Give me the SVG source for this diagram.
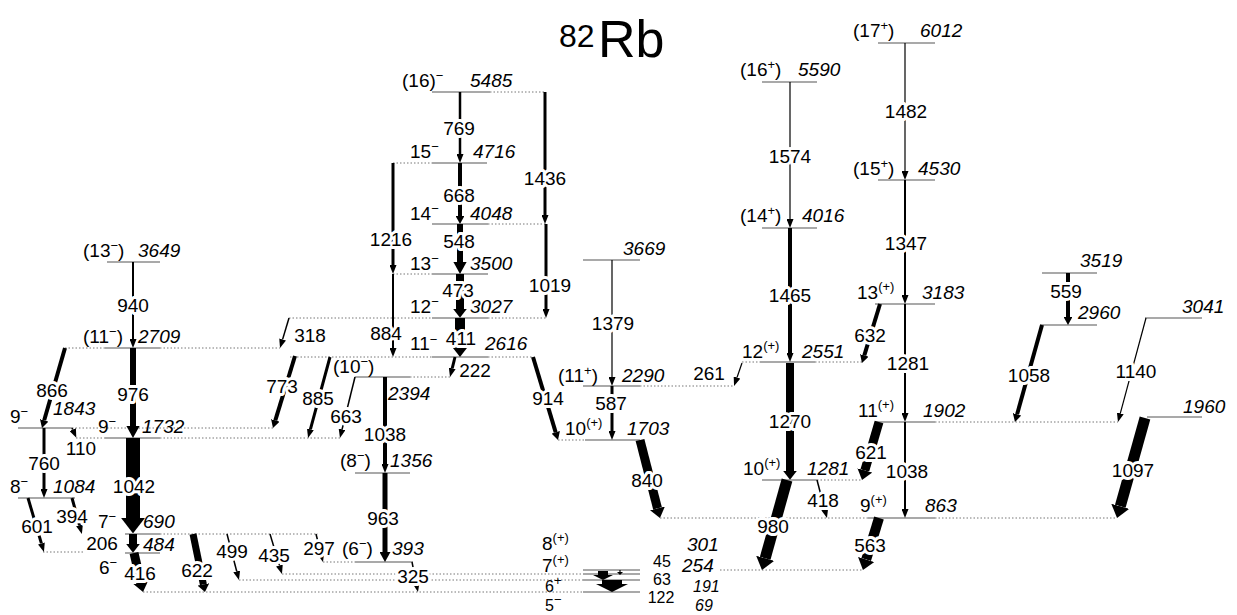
<svg xmlns="http://www.w3.org/2000/svg" width="1237" height="615" viewBox="0 0 1237 615">
<style>
.lv{stroke:#555;stroke-width:1.2;fill:none}
.dt{stroke:#777;stroke-width:1;stroke-dasharray:1.5 2;fill:none}
text{font-family:"Liberation Sans",Arial,sans-serif;font-size:19px;fill:#000}
.e{font-style:italic}
.s{font-size:13px}
.k{font-size:16px}
.g{text-anchor:middle;stroke:#fff;stroke-width:6;paint-order:stroke;stroke-linejoin:round}
.n{stroke-width:0}
.a{stroke:#000;fill:none}
.t{marker-end:url(#t)}
.m{marker-end:url(#m)}
.b{marker-end:url(#b)}
</style>
<defs>
<marker id="t" markerUnits="userSpaceOnUse" markerWidth="9" markerHeight="7" viewBox="0 0 9 7" refX="0" refY="3.5" orient="auto"><path d="M0,0L9,3.5L0,7z"/></marker>
<marker id="m" markerUnits="strokeWidth" markerWidth="2" markerHeight="2.2" viewBox="0 0 2 2.2" refX="0" refY="1.1" orient="auto"><path d="M0,0L2,1.1L0,2.2z"/></marker>
<marker id="b" markerUnits="strokeWidth" markerWidth="1.1" markerHeight="1.7" viewBox="0 0 1.1 1.7" refX="0" refY="0.85" orient="auto"><path d="M0,0L1.1,0.85L0,1.7z"/></marker>
</defs>
<rect width="1237" height="615" fill="#fff"/>
<g id="title"><text x="559" y="47" style="font-size:32px">82</text><text x="598" y="57" style="font-size:52px">Rb</text></g>

<g id="levels">
<g id="L3649"><line class="lv" x1="107" y1="262" x2="160" y2="262"/><text x="83" y="257">(13<tspan class="s" dy="-7">−</tspan><tspan dy="7">)</tspan></text><text class="e" x="138" y="257">3649</text></g>
<g id="L2709"><line class="lv" x1="105" y1="348" x2="160" y2="348"/><line class="dt" x1="65" y1="348" x2="105" y2="348"/><line class="dt" x1="160" y1="348" x2="280" y2="348"/><text x="83" y="343">(11<tspan class="s" dy="-7">−</tspan><tspan dy="7">)</tspan></text><text class="e" x="138" y="343">2709</text></g>
<g id="L1843"><line class="lv" x1="18" y1="428" x2="72" y2="428"/><line class="dt" x1="72" y1="428" x2="273" y2="428"/><text x="10" y="423">9<tspan class="s" dy="-7">−</tspan></text><text class="e" x="53" y="415">1843</text></g>
<g id="L1732"><line class="lv" x1="105" y1="438" x2="160" y2="438"/><line class="dt" x1="76" y1="438" x2="105" y2="438"/><line class="dt" x1="160" y1="438" x2="340" y2="438"/><text x="98" y="433">9<tspan class="s" dy="-7">−</tspan></text><text class="e" x="142" y="433">1732</text></g>
<g id="L1084"><line class="lv" x1="18" y1="498" x2="75" y2="498"/><text x="10" y="493">8<tspan class="s" dy="-7">−</tspan></text><text class="e" x="53" y="493">1084</text></g>
<g id="L690"><line class="lv" x1="125" y1="534" x2="160" y2="534"/><line class="dt" x1="160" y1="534" x2="318" y2="534"/><text x="98" y="528">7<tspan class="s" dy="-7">−</tspan></text><text class="e" x="143" y="528">690</text></g>
<g id="L484"><line class="lv" x1="125" y1="553" x2="160" y2="553"/><line class="dt" x1="43" y1="552" x2="85" y2="552"/><text x="99" y="574">6<tspan class="s" dy="-7">−</tspan></text><text class="e" x="143" y="551">484</text></g>
<g id="L393"><line class="lv" x1="355" y1="562" x2="413" y2="562"/><line class="dt" x1="323" y1="562" x2="355" y2="562"/><text x="342" y="555">(6<tspan class="s" dy="-7">−</tspan><tspan dy="7">)</tspan></text><text class="e" x="392" y="555">393</text></g>
<g id="L1356"><line class="lv" x1="355" y1="473" x2="410" y2="473"/><text x="340" y="467">(8<tspan class="s" dy="-7">−</tspan><tspan dy="7">)</tspan></text><text class="e" x="390" y="467">1356</text></g>
<g id="L2394"><line class="lv" x1="355" y1="377" x2="410" y2="377"/><line class="dt" x1="410" y1="377" x2="450" y2="377"/><text x="333" y="373">(10<tspan class="s" dy="-7">−</tspan><tspan dy="7">)</tspan></text><text class="e" x="388" y="400">2394</text></g>
<g id="L2616"><line class="lv" x1="432" y1="357" x2="488" y2="357"/><line class="dt" x1="290" y1="357" x2="432" y2="357"/><line class="dt" x1="488" y1="357" x2="533" y2="357"/><text x="410" y="350">11<tspan class="s" dy="-6">−</tspan></text><text class="e" x="485" y="350">2616</text></g>
<g id="L3027"><line class="lv" x1="432" y1="318" x2="488" y2="318"/><line class="dt" x1="289" y1="318" x2="432" y2="318"/><line class="dt" x1="488" y1="318" x2="546" y2="318"/><text x="410" y="313">12<tspan class="s" dy="-7">−</tspan></text><text class="e" x="470" y="313">3027</text></g>
<g id="L3500"><line class="lv" x1="432" y1="274" x2="488" y2="274"/><line class="dt" x1="393" y1="274" x2="432" y2="274"/><text x="410" y="270">13<tspan class="s" dy="-7">−</tspan></text><text class="e" x="470" y="270">3500</text></g>
<g id="L4048"><line class="lv" x1="432" y1="224" x2="488" y2="224"/><line class="dt" x1="488" y1="224" x2="546" y2="224"/><text x="410" y="220">14<tspan class="s" dy="-7">−</tspan></text><text class="e" x="470" y="220">4048</text></g>
<g id="L4716"><line class="lv" x1="432" y1="163" x2="487" y2="163"/><line class="dt" x1="393" y1="163" x2="432" y2="163"/><text x="410" y="158">15<tspan class="s" dy="-7">−</tspan></text><text class="e" x="473" y="158">4716</text></g>
<g id="L5485"><line class="lv" x1="432" y1="92" x2="490" y2="92"/><line class="dt" x1="490" y1="92" x2="545" y2="92"/><text x="402" y="87">(16)<tspan class="s" dy="-7">−</tspan></text><text class="e" x="470" y="87">5485</text></g>
<g id="L3669"><line class="lv" x1="583" y1="260" x2="640" y2="260"/><text class="e" x="623" y="255">3669</text></g>
<g id="L2290"><line class="lv" x1="583" y1="386" x2="640" y2="386"/><line class="dt" x1="640" y1="386" x2="734" y2="386"/><text x="558" y="382">(11<tspan class="s" dy="-7">+</tspan><tspan dy="7">)</tspan></text><text class="e" x="622" y="382">2290</text></g>
<g id="L1703"><line class="lv" x1="585" y1="440" x2="640" y2="440"/><line class="dt" x1="558" y1="440" x2="585" y2="440"/><text x="565" y="435">10<tspan class="s" dy="-8">(+)</tspan></text><text class="e" x="627" y="435">1703</text></g>
<g id="L301"><line class="lv" x1="583" y1="570" x2="640" y2="570"/><line class="dt" x1="720" y1="570" x2="862" y2="570"/><text x="542" y="550">8<tspan class="s" dy="-8">(+)</tspan></text><text class="e" x="687" y="551">301</text></g>
<g id="L254"><line class="lv" x1="583" y1="574" x2="640" y2="574"/><line class="dt" x1="282" y1="574" x2="583" y2="574"/><text x="542" y="572">7<tspan class="s" dy="-8">(+)</tspan></text><text class="e" x="682" y="572">254</text></g>
<g id="L191"><line class="lv" x1="583" y1="580" x2="640" y2="580"/><line class="dt" x1="239" y1="580" x2="583" y2="580"/><text class="k" x="545" y="592">6<tspan class="s" dy="-7">+</tspan></text><text class="e k" x="693" y="592">191</text></g>
<g id="L69"><line class="lv" x1="583" y1="592" x2="640" y2="592"/><line class="dt" x1="143" y1="592" x2="583" y2="592"/><text class="k" x="545" y="611">5<tspan class="s" dy="-7">−</tspan></text><text class="e k" x="695" y="611">69</text></g>
<g id="L5590"><line class="lv" x1="762" y1="82" x2="817" y2="82"/><text x="740" y="76">(16<tspan class="s" dy="-7">+</tspan><tspan dy="7">)</tspan></text><text class="e" x="798" y="76">5590</text></g>
<g id="L4016"><line class="lv" x1="762" y1="228" x2="817" y2="228"/><text x="740" y="222">(14<tspan class="s" dy="-7">+</tspan><tspan dy="7">)</tspan></text><text class="e" x="802" y="222">4016</text></g>
<g id="L2551"><line class="lv" x1="760" y1="362" x2="815" y2="362"/><line class="dt" x1="742" y1="362" x2="760" y2="362"/><line class="dt" x1="815" y1="362" x2="862" y2="362"/><text x="742" y="358">12<tspan class="s" dy="-8">(+)</tspan></text><text class="e" x="802" y="358">2551</text></g>
<g id="L1281"><line class="lv" x1="762" y1="480" x2="817" y2="480"/><line class="dt" x1="817" y1="480" x2="862" y2="480"/><text x="743" y="475">10<tspan class="s" dy="-8">(+)</tspan></text><text class="e" x="807" y="475">1281</text></g>
<g id="L6012"><line class="lv" x1="878" y1="43" x2="935" y2="43"/><text x="853" y="37">(17<tspan class="s" dy="-7">+</tspan><tspan dy="7">)</tspan></text><text class="e" x="920" y="37">6012</text></g>
<g id="L4530"><line class="lv" x1="878" y1="180" x2="935" y2="180"/><text x="853" y="175">(15<tspan class="s" dy="-7">+</tspan><tspan dy="7">)</tspan></text><text class="e" x="918" y="175">4530</text></g>
<g id="L3183"><line class="lv" x1="875" y1="304" x2="935" y2="304"/><text x="857" y="299">13<tspan class="s" dy="-8">(+)</tspan></text><text class="e" x="922" y="299">3183</text></g>
<g id="L1902"><line class="lv" x1="875" y1="422" x2="935" y2="422"/><line class="dt" x1="935" y1="422" x2="1118" y2="422"/><text x="858" y="417">11<tspan class="s" dy="-8">(+)</tspan></text><text class="e" x="923" y="417">1902</text></g>
<g id="L863"><line class="lv" x1="868" y1="518" x2="935" y2="518"/><line class="dt" x1="660" y1="518" x2="868" y2="518"/><line class="dt" x1="935" y1="518" x2="1117" y2="518"/><text x="860" y="512">9<tspan class="s" dy="-8">(+)</tspan></text><text class="e" x="925" y="512">863</text></g>
<g id="L3519"><line class="lv" x1="1042" y1="273" x2="1097" y2="273"/><text class="e" x="1080" y="267">3519</text></g>
<g id="L2960"><line class="lv" x1="1040" y1="325" x2="1097" y2="325"/><text class="e" x="1078" y="319">2960</text></g>
<g id="L3041"><line class="lv" x1="1145" y1="318" x2="1202" y2="318"/><text class="e" x="1182" y="313">3041</text></g>
<g id="L1960"><line class="lv" x1="1147" y1="417" x2="1202" y2="417"/><text class="e" x="1183" y="413">1960</text></g>
</g>

<g id="connectors">
<path class="a t" stroke-width="2" d="M133,262V339"/>
<path class="a m" stroke-width="6" d="M133,348V426"/>
<path class="a b" stroke-width="14" d="M133,438V518"/>
<path class="a b" stroke-width="8" d="M133,534V544"/>
<path class="a b" stroke-width="9" d="M134,553L140.8,582.3"/>
<path class="a t" stroke-width="3" d="M44,428V489"/>
<path class="a t" stroke-width="2.5" d="M460,92V154"/>
<path class="a m" stroke-width="4" d="M460,163V216"/>
<path class="a m" stroke-width="6" d="M460,224V262"/>
<path class="a b" stroke-width="8" d="M460,274V309"/>
<path class="a b" stroke-width="10" d="M460,318V346"/>
<path class="a t" stroke-width="3" d="M393,163V265"/>
<path class="a t" stroke-width="2" d="M393,274V348"/>
<path class="a t" stroke-width="3" d="M545,92V215"/>
<path class="a t" stroke-width="3" d="M546,224V309"/>
<path class="a t" stroke-width="4" d="M385,377V464"/>
<path class="a m" stroke-width="5" d="M385,473V552"/>
<path class="a t" stroke-width="1.2" d="M612,260V377"/>
<path class="a t" stroke-width="3" d="M612,386V431"/>
<path class="a t" stroke-width="1.2" d="M790,82V219"/>
<path class="a t" stroke-width="4" d="M790,228V353"/>
<path class="a b" stroke-width="8" d="M790,363V471"/>
<path class="a t" stroke-width="1.2" d="M905,43V171"/>
<path class="a t" stroke-width="2" d="M905,180V295"/>
<path class="a t" stroke-width="2" d="M905,304V413"/>
<path class="a t" stroke-width="2" d="M905,422V509"/>
<path class="a m" stroke-width="4" d="M1068,273V317"/>
<path class="a m" stroke-width="4" d="M65,348L44.2,420.3"/>
<path class="a t" stroke-width="3" d="M28,498L41.4,543.4"/>
<path class="a t" stroke-width="3" d="M72,498L79.5,525.3"/>
<path class="a t" stroke-width="1.5" d="M72,428L72.7,429.6"/>
<path class="a t" stroke-width="1.5" d="M289,318L282.6,339.4"/>
<path class="a m" stroke-width="4" d="M295,356L275.3,420.4"/>
<path class="a t" stroke-width="3" d="M330,357L310.4,429.3"/>
<path class="a t" stroke-width="1.5" d="M355,377L342.1,429.3"/>
<path class="a t" stroke-width="3" d="M455,357L452.2,368.3"/>
<path class="a t" stroke-width="1.5" d="M316,534L320.8,553.3"/>
<path class="a t" stroke-width="1.5" d="M412,562L416.2,583.2"/>
<path class="a t" stroke-width="1.5" d="M270,534L279.4,565.4"/>
<path class="a t" stroke-width="1.5" d="M227,534L236.7,571.3"/>
<path class="a b" stroke-width="7" d="M193,534L203.4,584.5"/>
<path class="a m" stroke-width="4" d="M533,357L555.7,432.3"/>
<path class="a b" stroke-width="9" d="M640,440L657.5,508.4"/>
<path class="a t" stroke-width="1.2" d="M742,363L737,377.5"/>
<path class="a b" stroke-width="11" d="M787,480L765.2,558.3"/>
<path class="a t" stroke-width="1.5" d="M817,480L824.7,509.3"/>
<path class="a m" stroke-width="4" d="M880,304L864.3,355.4"/>
<path class="a b" stroke-width="9" d="M879,422L864.8,470.5"/>
<path class="a b" stroke-width="10" d="M879,518L866.2,559.5"/>
<path class="a m" stroke-width="4" d="M1042,325L1017.1,414.3"/>
<path class="a t" stroke-width="1.2" d="M1146,318L1120.3,413.3"/>
<path class="a b" stroke-width="11" d="M1145,418L1120.3,506.3"/>
<polygon points="598,571 608,571 608,575 613,575 603,580 593,575 598,575"/>
<polygon points="602,580 622,580 622,584 628,584 612,592 596,584 602,584"/>
<path class="a" stroke-width="1.2" d="M620,570V573"/>
<polygon points="617,572 623,572 620,575" fill="#000"/>

<text class="g" x="133" y="312">940</text>
<text class="g" x="133" y="401">976</text>
<text class="g" x="134" y="493">1042</text>
<text class="g" x="52" y="397">866</text>
<text class="g" x="44" y="470">760</text>
<text class="g" x="81" y="455">110</text>
<text class="g" x="37" y="533">601</text>
<text class="g" x="72" y="523">394</text>
<text class="g" x="102" y="550">206</text>
<text class="g" x="140" y="580">416</text>
<text class="g" x="197" y="577">622</text>
<text class="g" x="232" y="558">499</text>
<text class="g" x="274" y="562">435</text>
<text class="g" x="319" y="555">297</text>
<text class="g" x="413" y="583">325</text>
<text class="g" x="383" y="525">963</text>
<text class="g" x="385" y="441">1038</text>
<text class="g" x="310" y="342">318</text>
<text class="g" x="282" y="393">773</text>
<text class="g" x="318" y="405">885</text>
<text class="g" x="346" y="423">663</text>
<text class="g" x="386" y="340">884</text>
<text class="g" x="391" y="246">1216</text>
<text class="g" x="475" y="377">222</text>
<text class="g" x="461" y="345">411</text>
<text class="g" x="458" y="297">473</text>
<text class="g" x="459" y="248">548</text>
<text class="g" x="459" y="202">668</text>
<text class="g" x="459" y="135">769</text>
<text class="g" x="545" y="185">1436</text>
<text class="g" x="550" y="292">1019</text>
<text class="g" x="548" y="405">914</text>
<text class="g" x="613" y="330">1379</text>
<text class="g" x="611" y="410">587</text>
<text class="g" x="647" y="487">840</text>
<text class="g" x="709" y="380">261</text>
<text class="g" x="790" y="302">1465</text>
<text class="g" x="790" y="428">1270</text>
<text class="g" x="790" y="163">1574</text>
<text class="g" x="906" y="118">1482</text>
<text class="g" x="906" y="250">1347</text>
<text class="g" x="908" y="370">1281</text>
<text class="g" x="870" y="342">632</text>
<text class="g" x="1029" y="382">1058</text>
<text class="g" x="1066" y="298">559</text>
<text class="g" x="1136" y="378">1140</text>
<text class="g" x="1133" y="477">1097</text>
<text class="g" x="871" y="459">621</text>
<text class="g" x="907" y="478">1038</text>
<text class="g" x="823" y="507">418</text>
<text class="g" x="773" y="533">980</text>
<text class="g" x="870" y="552">563</text>
<text class="g n k" x="662" y="567">45</text>
<text class="g n k" x="662" y="585">63</text>
<text class="g n k" x="661" y="603">122</text>
</g>
</svg>
